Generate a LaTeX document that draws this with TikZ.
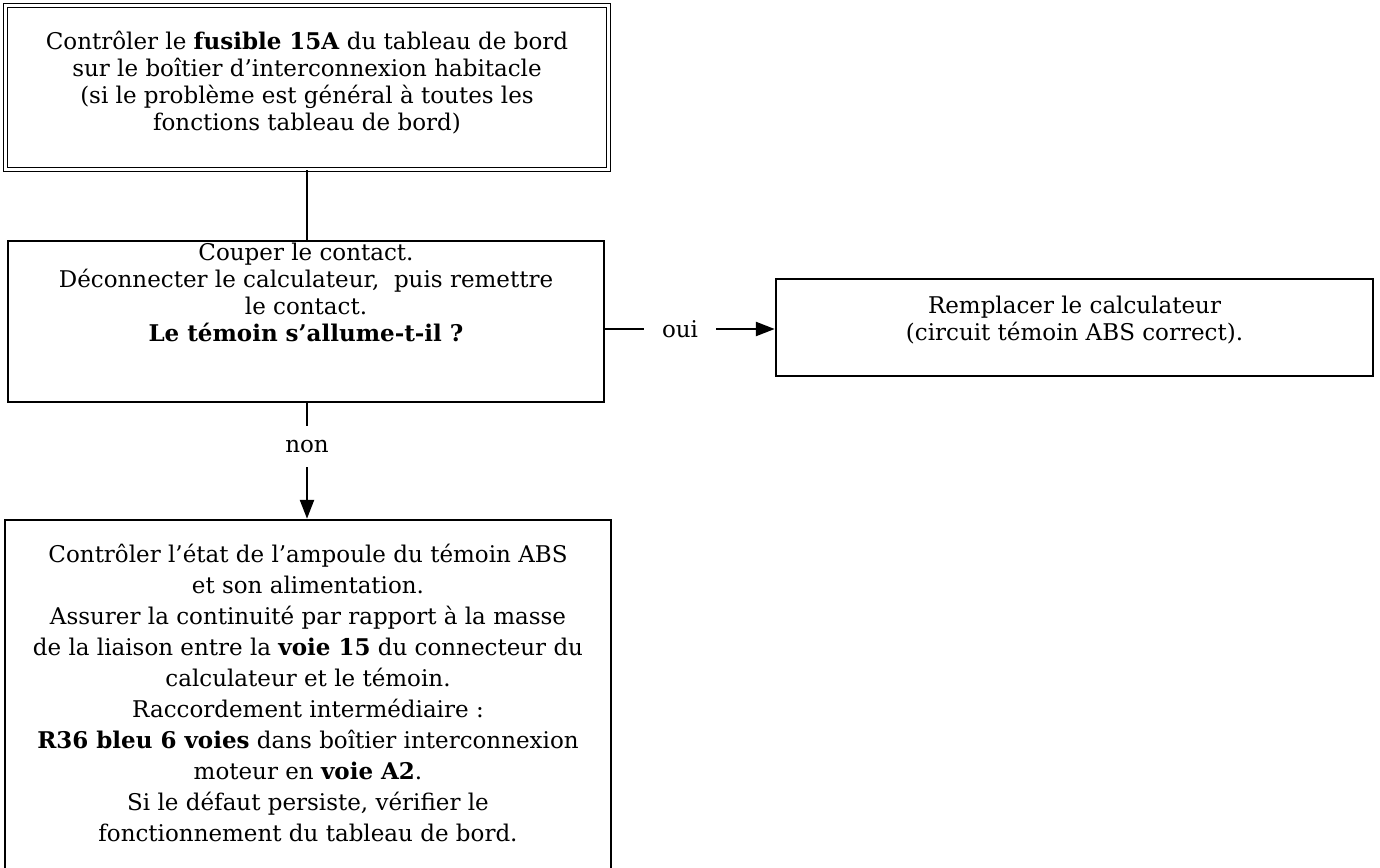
\documentclass[tikz,border=0pt]{standalone}
\usepackage{fontspec}
\setmainfont{DejaVu Serif}
\usetikzlibrary{arrows.meta}

\begin{document}
\begin{tikzpicture}[x=1pt, y=-1pt,
    stepbox/.style={rectangle, draw=black, line width=2.5pt, inner sep=0pt, align=center,
                    font=\fontsize{23}{27}\selectfont},
    fusebox/.style={stepbox, line width=1.5pt, double, double distance=2.5pt},
    answer/.style={inner sep=0pt, font=\fontsize{23}{27}\selectfont},
    connector/.style={line width=2.5pt, draw=black},
    flow/.style={connector, -{Triangle[length=19pt,width=14pt]}}
]
    \useasboundingbox (0,0) rectangle (1380,867);
    \clip (0,0) rectangle (1380,867);

    % Boxes
    \node[fusebox, minimum width=603pt, minimum height=164pt, text depth=13pt] (fusible) at (307,87.5)
        {Contrôler le \textbf{fusible 15A} du tableau de bord\\
         sur le boîtier d’interconnexion habitacle\\
         (si le problème est général à toutes les\\
         fonctions tableau de bord)};
    \node[stepbox, minimum width=596pt, minimum height=161pt, text depth=59pt] (couper) at (306,321.5)
        {Couper le contact.\\
         Déconnecter le calculateur,~ puis remettre\\
         le contact.\\
         \textbf{Le témoin s’allume-t-il ?}};
    \node[stepbox, minimum width=597pt, minimum height=97pt, text depth=19pt] (remplacer) at (1074.5,327.5)
        {Remplacer le calculateur\\
         (circuit témoin ABS correct).};
    \node[stepbox, font=\fontsize{23}{31}\selectfont, minimum width=606pt, minimum height=400pt,
          text depth=54pt] (ampoule) at (308,720)
        {Contrôler l’état de l’ampoule du témoin ABS\\
         et son alimentation.\\
         Assurer la continuité par rapport à la masse\\
         de la liaison entre la \textbf{voie 15} du connecteur du\\
         calculateur et le témoin.\\
         Raccordement intermédiaire :\\
         \textbf{R36 bleu 6 voies} dans boîtier interconnexion\\
         moteur en \textbf{voie A2}.\\
         Si le défaut persiste, vérifier le\\
         fonctionnement du tableau de bord.};

    % Answers
    \node[answer, minimum width=72pt] (oui) at (680,329) {oui};
    \node[answer, minimum height=41pt] (non) at (307,446.5) {non};

    % Connections
    \draw[connector] (fusible.south) -- (fusible.south |- couper.north);
    \draw[connector] (couper.east |- oui) -- (oui.west);
    \draw[flow] (oui.east) -- (remplacer.west |- oui);
    \draw[connector] (couper.south -| non) -- (non.north);
    \draw[flow] (non.south) -- (ampoule.north -| non);
\end{tikzpicture}
\end{document}
